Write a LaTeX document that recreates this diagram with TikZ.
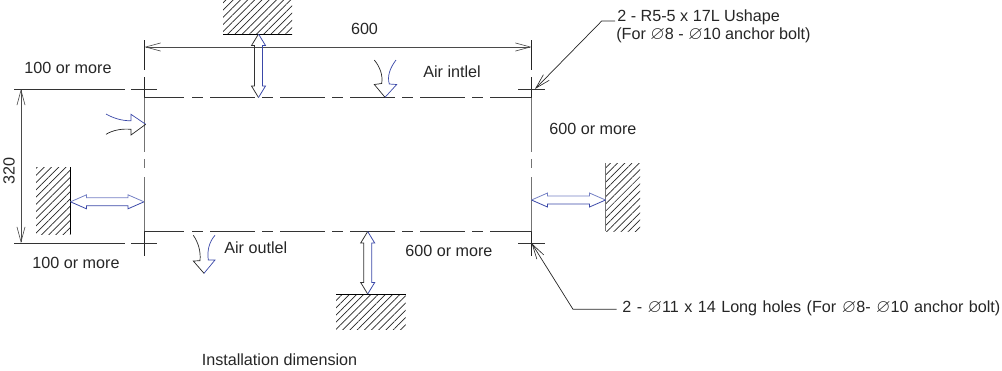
\documentclass[tikz,border=0pt]{standalone}
\usepackage{amssymb}
\usepackage{fontspec}
\setmainfont{Liberation Sans}
\usepackage{tikz}
\usetikzlibrary{arrows.meta,patterns.meta,positioning,calc}

\definecolor{dimgray}{HTML}{4A4A4A}
\definecolor{gapblue}{HTML}{3A48A8}
\definecolor{paleblue}{HTML}{7480C4}

\tikzset{
    label text/.style={font=\fontsize{9.2pt}{11pt}\selectfont, text=black!85, inner sep=0pt},
    body line/.style={line width=0.5pt, black!80},
    side line/.style={line width=0.7pt, black!55},
    barb/.tip={Straight Barb[length=8.5pt,width=4.6pt,line width=0.35pt]},
    dim line/.style={line width=0.45pt, dimgray, barb-barb},
    leader/.style={line width=0.4pt, black!85},
    wall/.style={pattern={Lines[angle=45,distance=2.9pt,line width=0.4pt]}, pattern color=black!85},
    wall edge/.style={line width=0.45pt, black},
    air/.style={line width=0.4pt, black!85}
}

% diameter sign, a bit larger than the text
\newcommand{\dia}{{\fontsize{10.6pt}{11pt}\selectfont\smash{$\varnothing$}}}

% hollow double arrow: #1 start, #2 rotation, #3 length, #4 head length, #5 and #6 colours of the two halves
\newcommand{\gaparrow}[6]{
    \begin{scope}[shift={#1}, rotate=#2]
        \draw[line width=0.45pt, #5] (0,0) -- (#4,7) -- (#4,4) -- (#3-#4,4) -- (#3-#4,7) -- (#3,0);
        \draw[line width=0.45pt, #6] (0,0) -- (#4,-7) -- (#4,-4) -- (#3-#4,-4) -- (#3-#4,-7) -- (#3,0);
    \end{scope}
}

\begin{document}
\begin{tikzpicture}[x=0.02cm, y=-0.02cm]
    \useasboundingbox (0,0) rectangle (1002,370);

    % left and right sides of the unit, chain lines
    \foreach \x in {144.5,531.5}
    {
        \draw[side line] (\x,97.5) -- (\x,152);
        \draw[side line] (\x,159) -- (\x,168);
        \draw[side line] (\x,177) -- (\x,231.5);
        \draw[leader] (\x,40) -- (\x,70);
        \draw[leader] (\x,77) -- (\x,97.5);
        \draw[leader] (\x,231.5) -- (\x,256);
    }
    % top and bottom sides of the unit, chain lines
    \foreach \y in {97.5,231.5}
    {
        \foreach \a/\b in {144/184,192/203,210/255,262/273,280/325,332/343,350/395,402/413,420/465,472/483,490/532}
        {
            \draw[body line] (\a,\y) -- (\b,\y);
        }
    }
    % extension lines of the height, ticks on the right
    \foreach \y in {89,243}
    {
        \draw[body line] (14,\y) -- (125,\y);
        \draw[body line] (131,\y) -- (157,\y);
        \draw[body line] (518,\y) -- (545,\y);
    }

    % dimensions
    \coordinate (dimtopa) at (144.5,47);
    \coordinate (dimtopb) at (531.5,47);
    \coordinate (dimlefta) at (21,89);
    \coordinate (dimleftb) at (21,243);
    \draw[dim line] (dimtopa) -- (dimtopb);
    \draw[dim line] (dimlefta) -- (dimleftb);
    \node[label text] (width) at (364.5,29) {600};
    \node[label text, rotate=90] (height) at (9,171) {320};

    % walls
    \fill[wall] (223,0) rectangle (292,34);
    \draw[wall edge] (223,34) -- (292,34);
    \fill[wall] (36,167) rectangle (70.5,234);
    \draw[wall edge, line width=0.6pt] (70.5,167) -- (70.5,234);
    \fill[wall] (605.5,163) rectangle (640,231);
    \draw[wall edge, line width=0.7pt, black!55] (605.5,163) -- (605.5,231);
    \fill[wall] (336,294) rectangle (405.5,329);
    \draw[wall edge] (336,294) -- (405.5,294);

    % clearances to the walls
    \gaparrow{(258.5,34)}{-90}{63.5}{11.5}{black!80}{gapblue}
    \gaparrow{(367.7,231.5)}{-90}{62.5}{11.5}{black!80}{gapblue}
    \gaparrow{(70.5,201.8)}{0}{73.5}{16}{gapblue}{paleblue}
    \gaparrow{(531.5,200)}{0}{74}{16}{gapblue}{paleblue}

    % air flow in
    \draw[air] (374.3,60) .. controls (380,67) and (383,75) .. (381.7,83.5) -- (374.3,84.5) -- (385,97.3);
    \draw[air, gapblue] (396,60) .. controls (390,68) and (387,76) .. (389.3,84) -- (396.7,84.5) -- (385,97.3);
    % air flow out
    \draw[air] (193.3,235.3) .. controls (198,242) and (201,251) .. (200,260.7) -- (193.3,261) -- (204,273.3);
    \draw[air, gapblue] (215,235.3) .. controls (209,242) and (207,251) .. (208.3,260) -- (215,260) -- (204,273.3);
    % air flow from the left side
    \draw[air, gapblue] (106,114) .. controls (113,118) and (122,121) .. (131,120.7) -- (131,114.3) -- (145.7,124.3);
    \draw[air] (106,134.3) .. controls (113,130) and (122,128.5) .. (131,129.3) -- (131,135) -- (145.7,124.3);

    % labels
    \node[label text] (clearup) at (68,68) {100 or more};
    \node[label text] (cleardown) at (76,263) {100 or more};
    \node[label text, anchor=west] (airin) at (423,72) {Air intlel};
    \node[label text, anchor=west] (airout) at (224,248) {Air outlel};
    \node[label text, anchor=west] (clearright) at (549,129) {600 or more};
    \node[label text, anchor=west] (clearbottom) at (405,251) {600 or more};
    \node[label text] (caption) at (279.5,360) {Installation dimension};

    % hole notes and their leaders
    \node[label text, anchor=base west] (ushape) at (617,21.5) {2 - R5-5 x 17L Ushape};
    \node[label text, anchor=base west] (ushapefor) at (616,39) {(For \dia8 - \dia10 anchor bolt)};
    \node[label text, anchor=base west] (longholes) at (622,312.5) {\spaceskip=3.1pt 2 - \dia11 x 14 Long holes (For \dia8- \dia10 anchor bolt)};
    \coordinate (ushapeend) at (615,21);
    \coordinate (ushapeknee) at (601.7,21);
    \coordinate (ushapehole) at (535,89);
    \coordinate (longend) at (616.7,309.3);
    \coordinate (longknee) at (573,309.3);
    \coordinate (longhole) at (531.7,243.3);
    \draw[leader, -barb] (ushapeend) -- (ushapeknee) -- (ushapehole);
    \draw[leader, -barb] (longend) -- (longknee) -- (longhole);
\end{tikzpicture}
\end{document}
